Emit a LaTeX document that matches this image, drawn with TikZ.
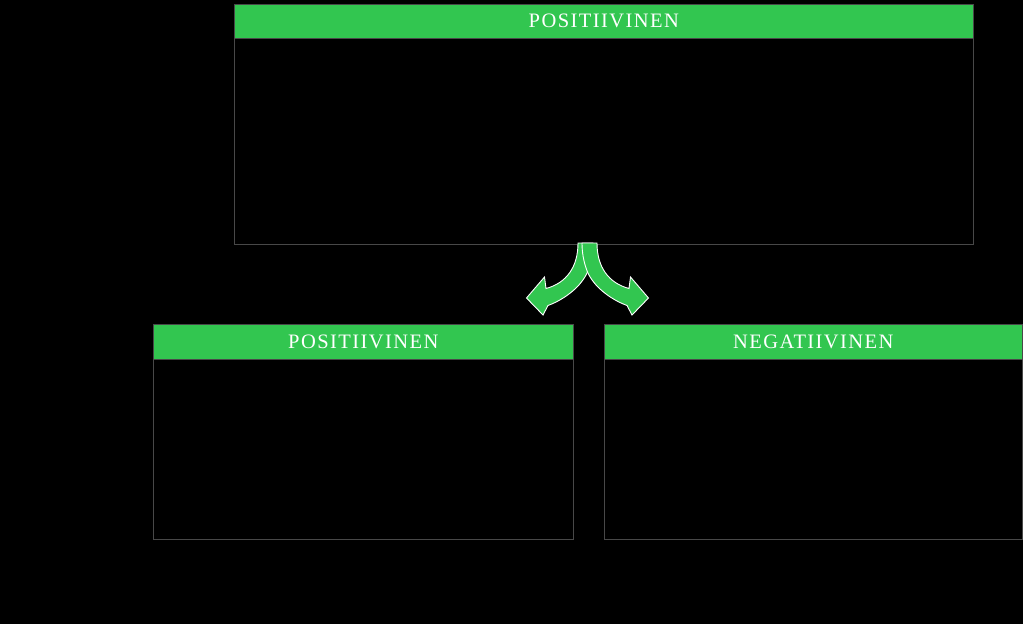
\documentclass[tikz,border=0pt]{standalone}
\usepackage{fontspec}
\setmainfont{Liberation Serif}
\newfontfamily\hdrfont{Liberation Serif}[LetterSpace=7]
\usetikzlibrary{positioning}
\definecolor{hdrgreen}{RGB}{50,198,80}
\definecolor{framegray}{RGB}{72,72,72}
\begin{document}
\begin{tikzpicture}[x=1pt,y=-1pt,
    panel/.style={draw=framegray,line width=0.9pt,fill=black,inner sep=0pt,anchor=north west},
    header/.style={fill=hdrgreen,draw=framegray,line width=0.6pt,inner sep=0pt,anchor=north west,
        text=white,font=\hdrfont\fontsize{20.5}{22}\selectfont},
    splitarrow/.style={fill=hdrgreen,draw=white,line width=0.9pt,line join=miter}]
    % Background
    \fill[black] (0,0) rectangle (1023,624);
    \useasboundingbox (0,0) rectangle (1023,624);

    % Upper panel
    \node[panel,minimum width=739pt,minimum height=240pt] (top) at (234,4) {};
    \node[header,minimum width=739pt,minimum height=34pt] (topHdr) at (top.north west) {POSITIIVINEN};

    % Lower panels
    \node[panel,minimum width=420pt,minimum height=215pt] (left) at (153,324) {};
    \node[header,minimum width=420pt,minimum height=35pt] (leftHdr) at (left.north west) {POSITIIVINEN};

    \node[panel,minimum width=418pt,minimum height=215pt] (right) at (604,324) {};
    \node[header,minimum width=418pt,minimum height=35pt] (rightHdr) at (right.north west) {NEGATIIVINEN};

    % Split arrow (left half, then mirrored on top)
    \foreach \side in {1,-1}{
        \begin{scope}[shift={(587.5,0)},xscale=\side]
            \draw[splitarrow] (-9.5,243) .. controls (-9.5,267) and (-21,283) .. (-41.5,288.5)
                -- (-43,277) -- (-61,298) -- (-44.5,315) -- (-39.5,305.5)
                .. controls (-22,299) and (-6,286) .. (0,272)
                .. controls (4,262) and (5.5,252) .. (5.5,243) -- cycle;
        \end{scope}
    }
\end{tikzpicture}
\end{document}
